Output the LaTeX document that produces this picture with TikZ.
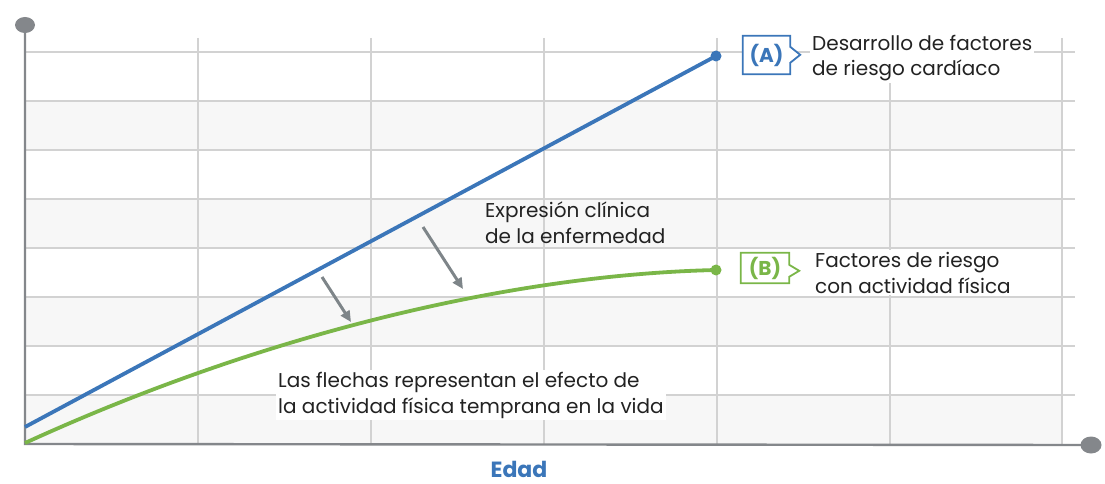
\documentclass[tikz,border=0pt]{standalone}
\usepackage{fontspec}
\setmainfont{Poppins}
\usetikzlibrary{arrows.meta,shapes.geometric}
\definecolor{blueA}{HTML}{3B76B9}
\definecolor{greenB}{HTML}{7AB648}
\definecolor{axisgray}{HTML}{84878B}
\definecolor{gridgray}{HTML}{D2D2D2}
\definecolor{rowgray}{HTML}{F7F7F7}
\definecolor{arrowgray}{HTML}{7E8589}
\definecolor{txt}{HTML}{222222}
\tikzset{
  gridline/.style={draw=gridgray,line width=2.6pt},
  axisline/.style={draw=axisgray,line width=2.4pt},
  axisdot/.style={ellipse,fill=axisgray,inner sep=0pt},
  curveA/.style={draw=blueA,line width=3.8pt},
  curveB/.style={draw=greenB,line width=3.8pt},
  enddot/.style={circle,inner sep=0pt,minimum size=11pt},
  effect/.style={draw=arrowgray,line width=3pt,-{Triangle[length=11pt,width=10pt]}},
  lbl/.style={text=txt,font=\fontsize{20}{25.5}\selectfont,align=left,inner sep=2pt,anchor=base west},
  tagbox/.style={font=\bfseries\fontsize{20}{22}\selectfont,inner sep=0pt},
}
\begin{document}
\begin{tikzpicture}[x=1pt,y=-1pt]
\useasboundingbox (0,0) rectangle (1105,484);
% bands
\foreach \y in {101,199,297,395} \fill[rowgray] (25,\y) rectangle (1062,\y+49);
% grid
\foreach \y in {52,101,150,199,248,297,346,395} \draw[gridline] (25,\y) -- (1075,\y);
\foreach \x in {198,371,544,717,890,1062} \draw[gridline] (\x,38) -- (\x,444);
% text with white backgrounds (anchor = baseline of last line)
\node[lbl,fill=white] (tL) at (276,413) {Las flechas representan el efecto de\\la actividad física temprana en la vida};
\node[lbl,fill=white] (tA) at (810,76) {Desarrollo de factores\\de riesgo cardíaco};
\node[lbl,fill=white] (tB) at (813,293) {Factores de riesgo\\con actividad física};
\node[lbl] (tE) at (483,243) {Expresión clínica\\de la enfermedad};
% axes
\node[axisdot,minimum width=20pt,minimum height=16pt] (ytop) at (25,25) {};
\node[axisdot,minimum width=21pt,minimum height=17pt] (xend) at (1091,445) {};
\coordinate (O) at (25,444);
\draw[axisline] (ytop.center) -- (O) -- (xend.center);
% curves
\coordinate (a0) at (25,427);
\coordinate (b0) at (25,443);
\node[enddot,fill=blueA] (dA) at (716,56) {};
\node[enddot,fill=greenB] (dB) at (716,270) {};
\draw[curveA] (a0) -- (dA.center);
\draw[curveB] (b0) .. controls (250,340) and (500,275) .. (dB.center);
% effect arrows
\coordinate (e1s) at (322,277); \coordinate (e1e) at (351,322);
\coordinate (e2s) at (423,227); \coordinate (e2e) at (463,289);
\draw[effect] (e1s) -- (e1e);
\draw[effect] (e2s) -- (e2e);
% tags
\node[tagbox,text=blueA,minimum width=47pt,minimum height=38pt] (bA) at (766.5,55) {(A)};
\draw[draw=blueA,line width=1.8pt,fill=white,line join=miter]
  (bA.north west) -- (bA.north east) -- ++(0,11) -- ++(10,8) -- ++(-10,8) -- (bA.south east) -- (bA.south west) -- cycle;
\node[tagbox,text=blueA,minimum width=47pt,minimum height=38pt] at (bA) {(A)};
\node[tagbox,text=greenB,minimum width=48pt,minimum height=30pt] (bB) at (765,268) {(B)};
\draw[draw=greenB,line width=1.8pt,fill=white,line join=miter]
  (bB.north west) -- (bB.north east) -- ++(0,12) -- ++(10,6) -- ++(-10,6) -- (bB.south east) -- (bB.south west) -- cycle;
\node[tagbox,text=greenB,minimum width=48pt,minimum height=30pt] at (bB) {(B)};
% axis label
\node[font=\bfseries\fontsize{22}{26}\selectfont,text=blueA] (xl) at (519,469) {Edad};
\end{tikzpicture}
\end{document}
